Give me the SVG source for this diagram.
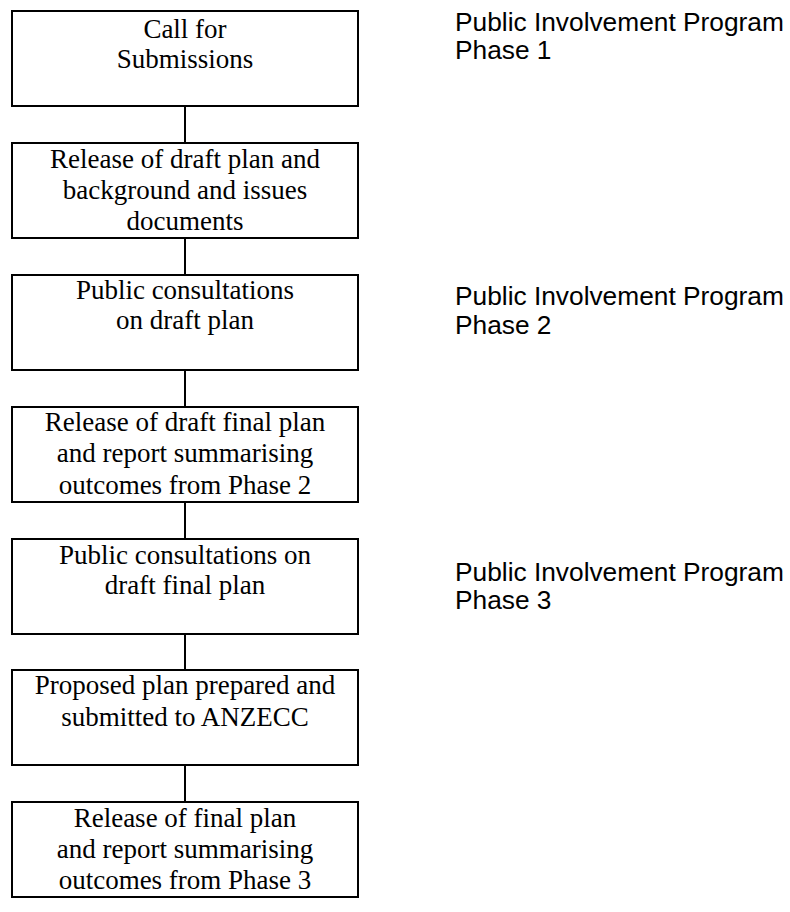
<svg xmlns="http://www.w3.org/2000/svg" width="790" height="912" viewBox="0 0 790 912">
<style>
.box{fill:#fff;stroke:#000;stroke-width:2}
.t{font-family:"Liberation Serif","Times New Roman",serif;font-size:27px;fill:#000;text-anchor:middle}
.p{font-family:"Liberation Sans",Arial,sans-serif;font-size:26.3px;fill:#000}
.c{stroke:#000;stroke-width:2;fill:none}
</style>
<rect width="790" height="912" fill="#fff"/>
<g id="connectors">
<line class="c" x1="185" y1="106" x2="185" y2="143"/>
<line class="c" x1="185" y1="238" x2="185" y2="275"/>
<line class="c" x1="185" y1="370" x2="185" y2="407"/>
<line class="c" x1="185" y1="502" x2="185" y2="539"/>
<line class="c" x1="185" y1="634" x2="185" y2="670"/>
<line class="c" x1="185" y1="765" x2="185" y2="802"/>
</g>
<g id="n1"><rect class="box" x="12" y="11" width="346" height="95"/>
<text class="t" x="185" y="38">Call for</text><text class="t" x="185" y="68">Submissions</text></g>
<g id="n2"><rect class="box" x="12" y="143" width="346" height="95"/>
<text class="t" x="185" y="168">Release of draft plan and</text><text class="t" x="185" y="199">background and issues</text><text class="t" x="185" y="230">documents</text></g>
<g id="n3"><rect class="box" x="12" y="275" width="346" height="95"/>
<text class="t" x="185" y="299">Public consultations</text><text class="t" x="185" y="329">on draft plan</text></g>
<g id="n4"><rect class="box" x="12" y="407" width="346" height="95"/>
<text class="t" x="185" y="431">Release of draft final plan</text><text class="t" x="185" y="462">and report summarising</text><text class="t" x="185" y="494">outcomes from Phase 2</text></g>
<g id="n5"><rect class="box" x="12" y="539" width="346" height="95"/>
<text class="t" x="185" y="564">Public consultations on</text><text class="t" x="185" y="594">draft final plan</text></g>
<g id="n6"><rect class="box" x="12" y="670" width="346" height="95"/>
<text class="t" x="185" y="694">Proposed plan prepared and</text><text class="t" x="185" y="726">submitted to ANZECC</text></g>
<g id="n7"><rect class="box" x="12" y="802" width="346" height="95"/>
<text class="t" x="185" y="827">Release of final plan</text><text class="t" x="185" y="858">and report summarising</text><text class="t" x="185" y="889">outcomes from Phase 3</text></g>
<g id="phase1"><text class="p" x="455" y="31">Public Involvement Program</text><text class="p" x="455" y="59">Phase 1</text></g>
<g id="phase2"><text class="p" x="455" y="305">Public Involvement Program</text><text class="p" x="455" y="334">Phase 2</text></g>
<g id="phase3"><text class="p" x="455" y="581">Public Involvement Program</text><text class="p" x="455" y="609">Phase 3</text></g>
</svg>
